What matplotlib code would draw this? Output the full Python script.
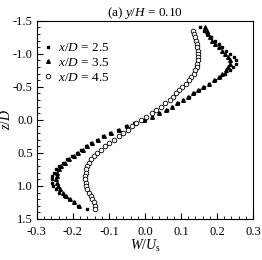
import numpy as np
import matplotlib
matplotlib.use("Agg")
import matplotlib.pyplot as plt
from matplotlib.ticker import MultipleLocator, FormatStrFormatter

plt.rcParams['font.family'] = 'Liberation Serif'
plt.rcParams['mathtext.fontset'] = 'custom'
plt.rcParams['mathtext.rm'] = 'Liberation Serif'
plt.rcParams['mathtext.it'] = 'Liberation Serif:italic'
plt.rcParams['axes.unicode_minus'] = False

# x/D = 2.5 (filled squares)
z_25 = [-1.40, -1.35, -1.30, -1.25, -1.20, -1.15, -1.10, -1.05, -1.00, -0.95,
        -0.90, -0.85, -0.80, -0.75, -0.70, -0.65, -0.60, -0.55, -0.50, -0.45,
        -0.40, -0.35, -0.30, -0.25, -0.20, -0.15, -0.10, -0.05, 0.00, 0.05,
        0.10, 0.15, 0.20, 0.25, 0.30, 0.35, 0.40, 0.45, 0.50, 0.55,
        0.60, 0.65, 0.70, 0.75, 0.80, 0.85, 0.90, 0.95, 1.00, 1.05,
        1.10, 1.15, 1.20, 1.25, 1.30, 1.35]
w_25 = [0.153, 0.163, 0.173, 0.183, 0.194, 0.205, 0.215, 0.226, 0.236, 0.246,
        0.253, 0.252, 0.245, 0.235, 0.222, 0.208, 0.194, 0.178, 0.164, 0.150,
        0.135, 0.121, 0.106, 0.091, 0.075, 0.060, 0.040, 0.020, 0.000, -0.030,
        -0.052, -0.075, -0.097, -0.116, -0.134, -0.150, -0.164, -0.178, -0.190, -0.203,
        -0.216, -0.229, -0.240, -0.248, -0.254, -0.257, -0.258, -0.258, -0.255, -0.248,
        -0.238, -0.225, -0.212, -0.198, -0.185, -0.162]

# x/D = 3.5 (filled triangles)
z_35 = [-1.40, -1.35, -1.30, -1.25, -1.20, -1.15, -1.10, -1.05, -1.00, -0.95,
        -0.90, -0.85, -0.80, -0.75, -0.70, -0.65, -0.60, -0.55, -0.50, -0.45,
        -0.40, -0.35, -0.30, -0.25, -0.20, -0.15, -0.10, -0.05, 0.00, 0.05,
        0.10, 0.15, 0.20, 0.25, 0.30, 0.35, 0.40, 0.45, 0.50, 0.55,
        0.60, 0.65, 0.70, 0.75, 0.80, 0.85, 0.90, 0.95, 1.00, 1.05,
        1.10, 1.15, 1.20, 1.25, 1.30]
w_35 = [0.167, 0.172, 0.176, 0.181, 0.187, 0.194, 0.204, 0.213, 0.222, 0.230,
        0.236, 0.236, 0.231, 0.224, 0.214, 0.204, 0.192, 0.178, 0.162, 0.148,
        0.134, 0.120, 0.105, 0.090, 0.074, 0.058, 0.038, 0.018, -0.004, -0.028,
        -0.050, -0.072, -0.094, -0.113, -0.131, -0.147, -0.160, -0.173, -0.186, -0.198,
        -0.211, -0.223, -0.233, -0.239, -0.243, -0.245, -0.246, -0.245, -0.242, -0.236,
        -0.228, -0.218, -0.207, -0.196, -0.184]

# x/D = 4.5 (open circles)
z_45 = [-1.35, -1.30, -1.25, -1.20, -1.15, -1.10, -1.05, -1.00, -0.95, -0.90,
        -0.85, -0.80, -0.75, -0.70, -0.65, -0.60, -0.55, -0.50, -0.45, -0.40,
        -0.35, -0.30, -0.25, -0.20, -0.15, -0.10, -0.05, 0.00, 0.05, 0.10,
        0.15, 0.20, 0.25, 0.30, 0.35, 0.40, 0.45, 0.50, 0.55, 0.60,
        0.65, 0.70, 0.75, 0.80, 0.85, 0.90, 0.95, 1.00, 1.05, 1.10,
        1.15, 1.20, 1.25, 1.30, 1.35]
w_45 = [0.133, 0.137, 0.140, 0.142, 0.144, 0.145, 0.146, 0.146, 0.146, 0.146,
        0.145, 0.143, 0.140, 0.135, 0.128, 0.121, 0.113, 0.104, 0.094, 0.087,
        0.078, 0.068, 0.056, 0.044, 0.031, 0.018, 0.003, -0.012, -0.024, -0.036,
        -0.048, -0.060, -0.073, -0.086, -0.099, -0.111, -0.122, -0.132, -0.141, -0.149,
        -0.155, -0.160, -0.163, -0.165, -0.166, -0.166, -0.165, -0.163, -0.160, -0.156,
        -0.151, -0.147, -0.143, -0.140, -0.138]

fig = plt.figure(figsize=(2.62, 2.60), dpi=100)
ax = fig.add_axes([0.141, 0.158, 0.825, 0.762])

ax.plot(w_25, z_25, 's', ms=1.8, color='black', mec='black', label=r'$x/D$ = 2.5')
ax.plot(w_35, z_35, '^', ms=2.6, color='black', mec='black', label=r'$x/D$ = 3.5')
ax.plot(w_45, z_45, 'o', ms=3.3, mfc='white', mec='black', mew=0.6, label=r'$x/D$ = 4.5')

ax.set_xlim(-0.3, 0.3)
ax.set_ylim(1.5, -1.5)
ax.xaxis.set_major_locator(MultipleLocator(0.1))
ax.xaxis.set_minor_locator(MultipleLocator(0.02))
ax.yaxis.set_major_locator(MultipleLocator(0.5))
ax.yaxis.set_minor_locator(MultipleLocator(0.1))
ax.xaxis.set_major_formatter(FormatStrFormatter('%.1f'))
ax.yaxis.set_major_formatter(FormatStrFormatter('%.1f'))
ax.tick_params(which='both', direction='in', top=False, right=False, labelsize=9)
ax.tick_params(which='major', length=4, width=0.8)
ax.tick_params(which='minor', length=2, width=0.6)
ax.tick_params(axis='y', which='major', pad=3)
ax.tick_params(axis='x', which='major', pad=5)
for s in ax.spines.values():
    s.set_linewidth(0.8)

ax.set_xlabel(r'$W/U_\mathrm{s}$', fontsize=10, labelpad=0)
ax.set_ylabel(r'$z/D$', fontsize=10)
ax.yaxis.set_label_coords(-0.11, 0.5)
ax.set_title(r'(a) $y/H$ = 0.10', fontsize=9.5, pad=3)

ax.legend(loc='upper left', bbox_to_anchor=(-0.03, 0.94), frameon=False,
          fontsize=9.5, handletextpad=0.2, labelspacing=0.2, borderaxespad=0.3,
          handlelength=1.2)

fig.savefig('out.png', dpi=100)
